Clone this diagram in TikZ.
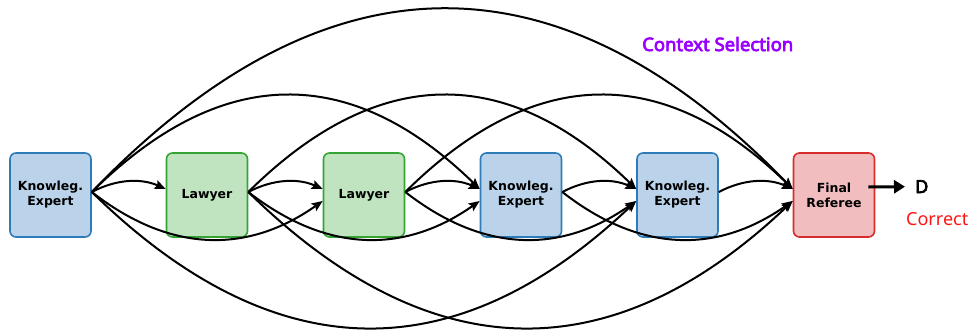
\documentclass[tikz,border=0pt]{standalone}
\usepackage{fontspec}
\newfontfamily\dejavub{DejaVu Sans Bold}
\newfontfamily\notosansb{Noto Sans}[FakeBold=4]
\newfontfamily\notosans{Noto Sans}
\usetikzlibrary{arrows.meta,calc}
\definecolor{kfill}{RGB}{186,211,234}
\definecolor{kdraw}{RGB}{45,124,184}
\definecolor{lfill}{RGB}{192,227,192}
\definecolor{ldraw}{RGB}{52,165,52}
\definecolor{rfill}{RGB}{242,189,191}
\definecolor{rdraw}{RGB}{214,44,44}
\definecolor{ctxpurple}{RGB}{153,0,255}
\definecolor{okred}{RGB}{255,20,20}
\newcommand\myarc[3]{\draw[edge] (#1) .. controls ($(#1)!0.3333!(#2)+(0,#3)$) and ($(#1)!0.6667!(#2)+(0,#3)$) .. (#2);}
\tikzset{
  agent/.style={rounded corners=6pt, line width=1.6pt, minimum width=81pt, minimum height=84pt, inner sep=0pt, align=center, font=\dejavub\fontsize{12.5}{15}\selectfont},
  kbox/.style={agent, fill=kfill, draw=kdraw},
  lbox/.style={agent, fill=lfill, draw=ldraw},
  rbox/.style={agent, fill=rfill, draw=rdraw},
  edge/.style={line width=2pt, black, -{Stealth[length=11pt,width=9pt,inset=2pt]}},
}
\begin{document}
\begin{tikzpicture}[x=1pt,y=-1pt]
\useasboundingbox (0,0) rectangle (974,332);
\node[kbox] (b1) at (50.5,195) {Knowleg.\\Expert};
\node[lbox] (b2) at (207,195) {Lawyer};
\node[lbox] (b3) at (364,195) {Lawyer};
\node[kbox] (b4) at (521,195) {Knowleg.\\Expert};
\node[kbox] (b5) at (677.5,195) {Knowleg.\\Expert};
\node[rbox] (b6) at (834,195) {Final\\Referee};
\foreach \i in {1,...,6}{
  \coordinate (o\i) at ($(b\i.east)+(0,-3)$);
  \coordinate (u\i) at ($(b\i.west)+(0,-6)$);
  \coordinate (l\i) at ($(b\i.west)+(0,6)$);
}
% one-step arcs above
\myarc{o1}{u2}{-12}
\myarc{o2}{u3}{-12}
\myarc{o3}{u4}{-12}
\myarc{o4}{u5}{-12}
\myarc{o5}{u6}{-12}
% two-step arcs below
\myarc{o1}{l3}{57}
\myarc{o2}{l4}{57}
\myarc{o3}{l5}{57}
\myarc{o4}{l6}{57}
% three-step arcs above
\myarc{o1}{u4}{-127}
\myarc{o2}{u5}{-127}
\myarc{o3}{u6}{-127}
% four-step arcs below
\myarc{o1}{l5}{175}
\myarc{o2}{l6}{175}
% five-step arc above
\myarc{o1}{u6}{-242}
% output
\node[anchor=base west, inner sep=0pt, font=\notosansb\fontsize{18}{20}\selectfont] (D) at (915,193) {D};
\draw[line width=3pt, -{Triangle[length=11pt,width=13pt]}, shorten >=10pt] ($(b6.east)+(-7,-8)$) -- (D.west);
\node[anchor=base west, inner sep=0pt, text=okred, font=\notosans\fontsize{18}{20}\selectfont] (corr) at (906,225) {Correct};
\node[anchor=base west, inner sep=0pt, text=ctxpurple, font=\notosansb\fontsize{18.5}{20}\selectfont] (ctx) at (642,51) {Context Selection};
\end{tikzpicture}
\end{document}
